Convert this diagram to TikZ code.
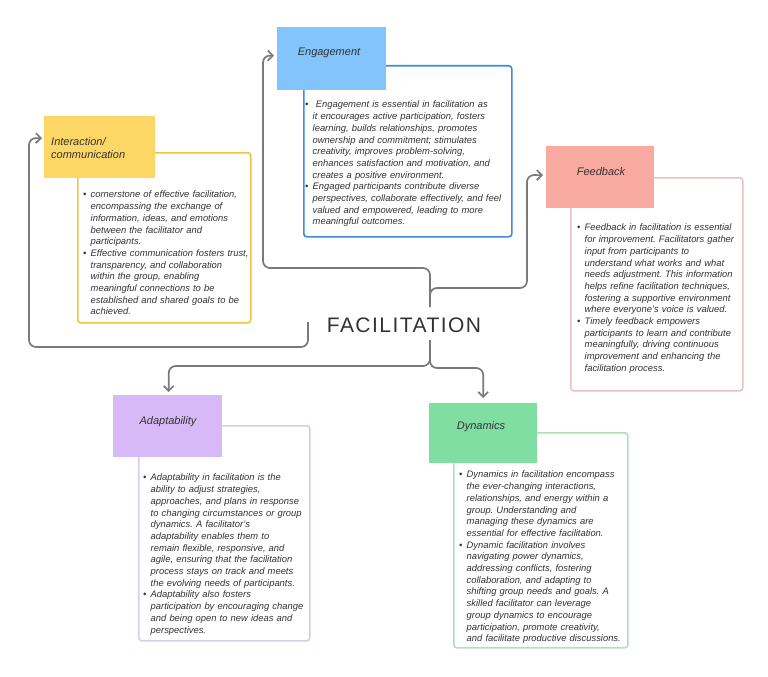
\documentclass[tikz,border=0pt]{standalone}
\usepackage{fontspec}
\setmainfont{Liberation Sans}
\usetikzlibrary{arrows.meta}
\definecolor{txt}{HTML}{333333}
\definecolor{conng}{HTML}{7A7A7A}
\definecolor{yelH}{HTML}{FDD766}
\definecolor{yelB}{HTML}{EBC548}
\definecolor{bluH}{HTML}{82C4FB}
\definecolor{bluB}{HTML}{3C8DDC}
\definecolor{pnkH}{HTML}{F9AAA0}
\definecolor{pnkB}{HTML}{EDC0C0}
\definecolor{purH}{HTML}{D7B9F7}
\definecolor{purB}{HTML}{D8CCE8}
\definecolor{grnH}{HTML}{80DEA2}
\definecolor{grnB}{HTML}{B0E0BA}
\frenchspacing
\newcommand{\nl}{\hfil\break}
\newcommand{\bitem}[1]{\par\hangindent=7.5pt\hangafter=1\noindent\makebox[7.5pt][l]{•}#1\par}
\begin{document}
\begin{tikzpicture}[x=1pt,y=-1pt,
  hdr/.style={anchor=north west, inner sep=0pt, draw=none},
  hlabel/.style={inner sep=0pt, font=\fontsize{11}{13}\selectfont\itshape, text=txt},
  tbx/.style={anchor=north west, rounded corners=3pt, line width=1.6pt, fill=white, inner sep=0pt},
  body/.style={anchor=north west, inner sep=0pt, text width=#1, align=left,
     font=\fontsize{9.4}{11.7}\selectfont\itshape, text=txt},
  conn/.style={draw=conng, line width=1.7pt, rounded corners=7pt,
     -{Straight Barb[length=5pt,width=10pt]}}
]
\useasboundingbox[fill=white] (0,0) rectangle (768,677);

% text boxes
\node[tbx, draw=bluB, minimum width=208pt, minimum height=171pt] (engt) at (303,65) {};
\node[tbx, draw=yelB, minimum width=173pt, minimum height=170pt] (intt) at (77,152) {};
\node[tbx, draw=pnkB, minimum width=172pt, minimum height=213pt] (feet) at (570,177) {};
\node[tbx, draw=purB, minimum width=171pt, minimum height=215pt] (adat) at (138,425) {};
\node[tbx, draw=grnB, minimum width=174pt, minimum height=215pt] (dynt) at (453,432) {};

% headers
\node[hdr, fill=bluH, minimum width=109pt, minimum height=63pt] (engh) at (277,27) {};
\node[hdr, fill=yelH, minimum width=111pt, minimum height=62pt] (inth) at (44,116) {};
\node[hdr, fill=pnkH, minimum width=108pt, minimum height=62pt] (feeh) at (546,146) {};
\node[hdr, fill=purH, minimum width=109pt, minimum height=62pt] (adah) at (113,395) {};
\node[hdr, fill=grnH, minimum width=108pt, minimum height=60pt] (dynh) at (429,403) {};

% header labels
\node[hlabel] (engl) at (329,53) {Engagement};
\node[hlabel, anchor=west, align=left] (intl) at (51,148.5) {Interaction/\\communication};
\node[hlabel] (feel) at (601,172) {Feedback};
\node[hlabel] (adal) at (168,422) {Adaptability};
\node[hlabel] (dynl) at (481,427) {Dynamics};

% body texts
\node[body=200pt] (engx) at (305,96) {%
\bitem{\ Engagement is essential in facilitation as\nl it encourages active participation, fosters\nl learning, builds relationships, promotes\nl ownership and commitment; stimulates\nl creativity, improves problem-solving,\nl enhances satisfaction and motivation, and\nl creates a positive environment.}%
\bitem{Engaged participants contribute diverse\nl perspectives, collaborate effectively, and feel\nl valued and empowered, leading to more\nl meaningful outcomes.}};

\node[body=170pt] (intx) at (83,186) {%
\bitem{cornerstone of effective facilitation,\nl encompassing the exchange of\nl information, ideas, and emotions\nl between the facilitator and\nl participants.}%
\bitem{Effective communication fosters trust,\nl transparency, and collaboration\nl within the group, enabling\nl meaningful connections to be\nl established and shared goals to be\nl achieved.}};

\node[body=170pt] (feex) at (577,219) {%
\bitem{Feedback in facilitation is essential\nl for improvement. Facilitators gather\nl input from participants to\nl understand what works and what\nl needs adjustment. This information\nl helps refine facilitation techniques,\nl fostering a supportive environment\nl where everyone's voice is valued.}%
\bitem{Timely feedback empowers\nl participants to learn and contribute\nl meaningfully, driving continuous\nl improvement and enhancing the\nl facilitation process.}};

\node[body=170pt] (adax) at (143,469) {%
\bitem{Adaptability in facilitation is the\nl ability to adjust strategies,\nl approaches, and plans in response\nl to changing circumstances or group\nl dynamics. A facilitator's\nl adaptability enables them to\nl remain flexible, responsive, and\nl agile, ensuring that the facilitation\nl process stays on track and meets\nl the evolving needs of participants.}%
\bitem{Adaptability also fosters\nl participation by encouraging change\nl and being open to new ideas and\nl perspectives.}};

\node[body=172pt] (dynx) at (459,466) {%
\bitem{Dynamics in facilitation encompass\nl the ever-changing interactions,\nl relationships, and energy within a\nl group. Understanding and\nl managing these dynamics are\nl essential for effective facilitation.}%
\bitem{Dynamic facilitation involves\nl navigating power dynamics,\nl addressing conflicts, fostering\nl collaboration, and adapting to\nl shifting group needs and goals. A\nl skilled facilitator can leverage\nl group dynamics to encourage\nl participation, promote creativity,\nl and facilitate productive discussions.}};

% center
\node[inner sep=0pt, text=txt, font=\fontsize{21}{24}\selectfont\addfontfeature{LetterSpace=7}] (fac) at (404,325) {FACILITATION};
\coordinate (ftop) at (430,307);
\coordinate (fmid) at (430,300);
\coordinate (fleft) at (308,322);
\coordinate (fbot) at (430,340);

% connectors
\draw[conn, shorten >=3pt] (ftop) -- (430,268) -- (263,268) -- (263,55.5) -- ([yshift=3pt]engh.west);
\draw[conn, shorten >=2pt] (fleft) -- (308,347) -- (29,347) -- (29,138) -- ([yshift=9pt]inth.west);
\draw[conn, shorten >=3pt] (fmid) -- (430,288) -- (527,288) -- (527,175) -- ([yshift=2pt]feeh.west);
\draw[conn, shorten >=3pt] (fbot) -- (430,366) -| ([xshift=1pt]adah.north);
\draw[conn, shorten >=5pt] (fbot) -- (430,368) -| (dynh.north);
\end{tikzpicture}
\end{document}
